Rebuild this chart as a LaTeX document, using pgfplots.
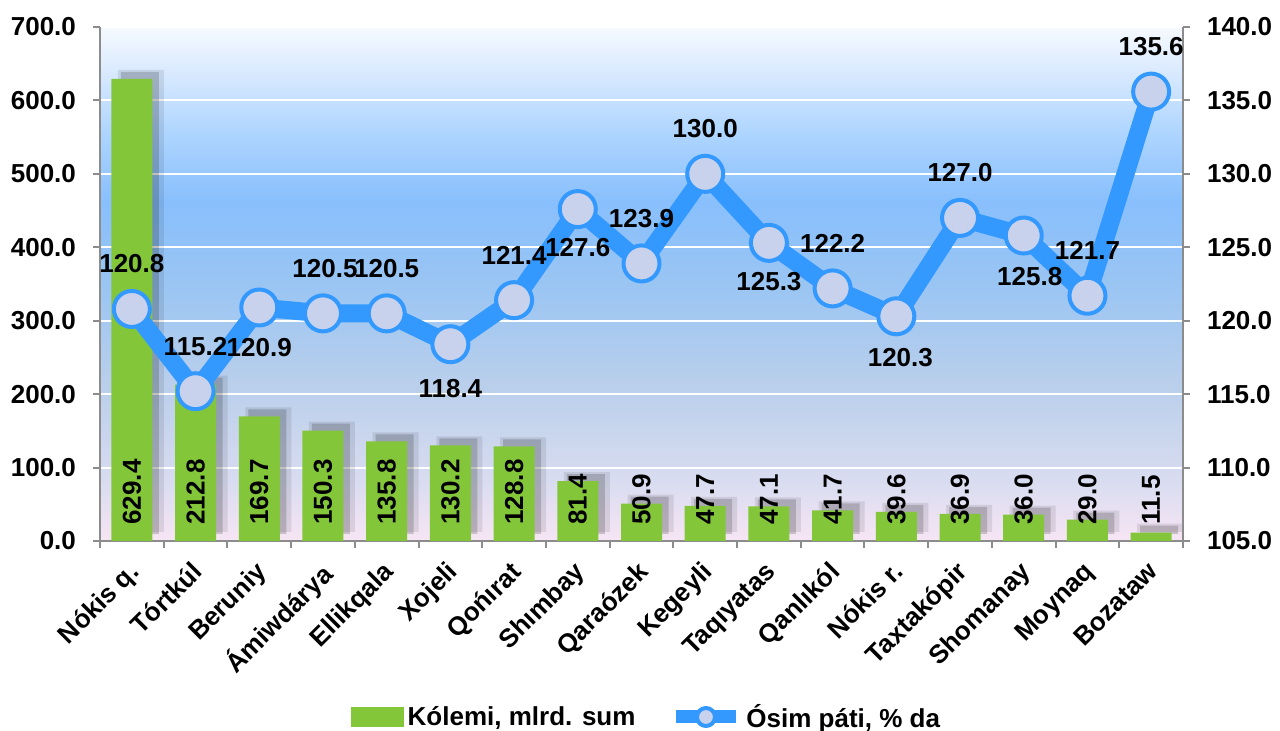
\documentclass[border=0pt]{standalone}
\usepackage{fontspec}
\setmainfont{Liberation Sans}
\usepackage{pgfplots}
\usepackage{pgfplotstable}
\pgfplotsset{compat=1.18}
\usetikzlibrary{calc}
\definecolor{bargreen}{HTML}{84C63A}
\definecolor{lineblue}{HTML}{3399FF}
\definecolor{axgray}{HTML}{8C8C8C}
\definecolor{mkfill}{HTML}{C9D2EC}
\definecolor{bgA}{HTML}{F7E5F4}
\definecolor{bgB}{HTML}{D8DCF0}
\definecolor{bgC}{HTML}{BACFEB}
\definecolor{bgD}{HTML}{9AC5F3}
\definecolor{bgE}{HTML}{88BFFC}
\definecolor{bgF}{HTML}{B0D6FF}
\definecolor{bgG}{HTML}{DCEBFF}
\definecolor{bgH}{HTML}{F6FAFF}
\pgfdeclareverticalshading{bgshade}{100bp}{color(0bp)=(bgA); color(25bp)=(bgA); color(31bp)=(bgB); color(40bp)=(bgC); color(50bp)=(bgD); color(58bp)=(bgE); color(65bp)=(bgF); color(71bp)=(bgG); color(75bp)=(bgH); color(100bp)=(bgH)}

\pgfplotstableread{
x v lab
0 629.4 629.4
1 212.8 212.8
2 169.7 169.7
3 150.3 150.3
4 135.8 135.8
5 130.2 130.2
6 128.8 128.8
7 81.4 81.4
8 50.9 50.9
9 47.7 47.7
10 47.1 47.1
11 41.7 41.7
12 39.6 39.6
13 36.9 36.9
14 36.0 36.0
15 29.0 29.0
16 11.5 11.5
}\bars

\pgfplotstableread{
x v lab dx dy
0 120.8 120.8 0 22.5
1 115.2 115.2 0 22.5
2 120.9 120.9 0 -20
3 120.5 120.5 1 22.5
4 120.5 120.5 0 22.5
5 118.4 118.4 0 -22
6 121.4 121.4 0 22.5
7 127.6 127.6 0 -19
8 123.9 123.9 0 22.5
9 130.0 130.0 0 22.5
10 125.3 125.3 0 -19.5
11 122.2 122.2 0 22.5
12 120.3 120.3 2 -20.5
13 127.0 127.0 0 22.5
14 125.8 125.8 3 -20.5
15 121.7 121.7 0 22.5
16 135.6 135.6 0 22.5
}\growth

\newcommand{\lblfont}{\bfseries\fontsize{13}{14}\selectfont}

\begin{document}
\begin{tikzpicture}
\begin{axis}[
  name=ax1,
  scale only axis, width=541.5pt, height=257pt,
  xmin=-0.5, xmax=16.5, ymin=0, ymax=700,
  axis x line*=bottom, axis y line*=left,
  axis line style={draw=axgray, line width=1pt},
  axis background/.style={shading=bgshade},
  tick align=outside,
  major tick length=3.5pt, minor tick length=3.5pt,
  ytick={0,100,...,700},
  yticklabel={\pgfmathprintnumber[fixed,fixed zerofill,precision=1]{\tick}},
  /pgf/number format/assume math mode=true,
  ymajorgrids, major grid style={white, line width=1pt},
  y tick style={draw=axgray, line width=1pt},
  xtick={0,...,16},
  xticklabels={Nókis q.,Tórtkúl,Beruniy,Ámiwdárya,Ellikqala,Xojeli,Qońırat,Shımbay,Qaraózek,Kegeyli,Taqıyatas,Qanlıkól,Nókis r.,Taxtakópir,Shomanay,Moynaq,Bozataw},
  major x tick style={draw=none},
  minor xtick={-0.5,0.5,...,16.5},
  minor x tick style={draw=axgray, line width=1pt},
  ticklabel style={font=\lblfont},
  yticklabel style={xshift=-5pt},
  xticklabel style={xshift=-2.5pt, yshift=-3pt, rotate=45, anchor=north east, inner sep=2pt},
]
\addplot[ybar, bar width=23pt, fill=black, fill opacity=0.09, draw=none, xshift=4.5pt, yshift=4.5pt, forget plot] table[x=x, y=v] {\bars};
\addplot[ybar, bar width=19pt, fill=black, fill opacity=0.17, draw=none, xshift=4pt, yshift=3.5pt, forget plot] table[x=x, y=v] {\bars};
\addplot[ybar, bar width=20.5pt, fill=bargreen, draw=none,
  nodes near coords, point meta=explicit symbolic,
  visualization depends on={rawy \as \rawy},
  every node near coord/.append style={shift={(axis direction cs:0,-\rawy)}, rotate=90, anchor=west, inner sep=8pt, font=\lblfont, text=black}
] table[x=x, y=v, meta=lab] {\bars};
\end{axis}
\begin{axis}[
  scale only axis, width=541.5pt, height=257pt,
  xmin=-0.5, xmax=16.5, ymin=105, ymax=140,
  axis x line=none, axis y line*=right,
  axis line style={draw=axgray, line width=1pt},
  tick align=outside, major tick length=3.5pt,
  ytick={105,110,...,140},
  yticklabel={\pgfmathprintnumber[fixed,fixed zerofill,precision=1]{\tick}},
  /pgf/number format/assume math mode=true,
  y tick style={draw=axgray, line width=1pt},
  ticklabel style={font=\lblfont},
  yticklabel style={xshift=5pt},
  clip=false,
  legend style={at={(0.5,0)}, yshift=-88pt, xshift=3pt, anchor=center, draw=none, fill=none, font=\lblfont, legend columns=2, /tikz/every even column/.append style={column sep=15pt}},
]
\addlegendimage{legend image code/.code={\fill[bargreen] (0pt,-4.75pt) rectangle (26pt,4.75pt);}}
\addlegendentry{Kólemi, mlrd. sum}
\addplot[lineblue, line width=9pt, line join=round, mark=*, mark size=9pt,
  mark options={draw=lineblue, line width=2pt, fill=mkfill},
  nodes near coords, point meta=explicit symbolic,
  visualization depends on={\thisrow{dx} \as \dx},
  visualization depends on={\thisrow{dy} \as \dy},
  every node near coord/.append style={anchor=center, xshift=\dx pt, yshift=\dy pt, font=\lblfont, text=black},
  legend image code/.code={\draw[lineblue, line width=6.5pt] (0pt,0pt) -- (30pt,0pt); \draw[lineblue, line width=2pt, fill=mkfill] (15pt,0pt) circle (4.5pt);}
] table[x=x, y=v, meta=lab] {\growth};
\addlegendentry{Ósim páti, \% da}
\end{axis}
\pgfresetboundingbox
\path[use as bounding box] ($(ax1.south west)+(-50pt,-95pt)$) rectangle ($(ax1.north east)+(48.5pt,13.5pt)$);
\end{tikzpicture}
\end{document}
